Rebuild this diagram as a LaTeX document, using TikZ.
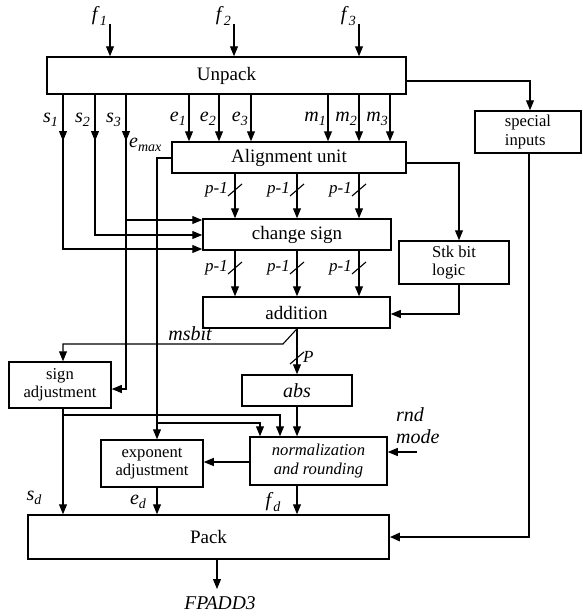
\documentclass[tikz,border=0pt]{standalone}
\usepackage{fontspec}
\setmainfont{Liberation Serif}
\usetikzlibrary{arrows.meta}
\newcommand{\lbl}[2]{\textit{#1}\raisebox{-0.45ex}{\fontsize{14}{14}\selectfont\textit{#2}}}
\newcommand{\slashmark}[2]{\draw[conn] (#1-7,#2+6) -- (#1+7,#2-6);}
\begin{document}
\begin{tikzpicture}[x=1pt,y=-1pt,
  box/.style={draw, line width=1.5pt, inner sep=0pt, font=\fontsize{19}{21}\selectfont},
  sbox/.style={draw, line width=1.5pt, inner sep=0pt, font=\fontsize{16.6}{18.5}\selectfont},
  conn/.style={line width=1.1pt},
  arr/.style={conn, -{Triangle[length=10pt,width=8pt]}},
  thickarr/.style={line width=2.6pt, -{Triangle[length=10pt,width=8pt]}},
  lab/.style={font=\fontsize{20}{22}\selectfont, inner sep=0pt},
  plab/.style={font=\fontsize{17}{19}\selectfont\itshape, inner sep=0pt},
]
\useasboundingbox (0,0) rectangle (582,616);

% boxes
\node[box, minimum width=359pt, minimum height=37pt] (unpack) at (226.5,75.5) {Unpack};
\node[box, minimum width=234pt, minimum height=31pt] (align) at (289,157.5) {Alignment unit};
\node[box, minimum width=188pt, minimum height=31pt] (chg) at (297,234.5) {change sign};
\node[box, minimum width=187pt, minimum height=31pt] (add) at (296.5,312.5) {addition};
\node[sbox, minimum width=110pt, minimum height=43pt, align=left] (stk) at (454,262.5) {Stk bit\\logic};
\node[sbox, minimum width=106pt, minimum height=42pt, align=left] (sp) at (528,132) {special\\inputs};
\node[sbox, minimum width=102pt, minimum height=46pt, align=center] (sadj) at (60,385) {sign\\adjustment};
\node[box, minimum width=110pt, minimum height=31pt, font=\fontsize{20}{22}\selectfont\itshape] (abs) at (297,390.5) {abs};
\node[sbox, minimum width=137pt, minimum height=48pt, align=center, font=\fontsize{16.6}{18.5}\selectfont\itshape] (norm) at (318.5,461) {normalization\\and rounding};
\node[sbox, minimum width=102pt, minimum height=47pt, align=center] (eadj) at (152,463.5) {exponent\\adjustment};
\node[box, minimum width=361pt, minimum height=44pt] (pack) at (208.5,537) {Pack};

% inputs f
\node[lab, anchor=east] (f1) at (107,16) {\lbl{f}{1}};
\node[lab, anchor=east] (f2) at (231,16) {\lbl{f}{2}};
\node[lab, anchor=east] (f3) at (356,16) {\lbl{f}{3}};
\coordinate (f1s) at (110,24);
\coordinate (f2s) at (234,24);
\coordinate (f3s) at (359,24);
\draw[arr] (f1s) -- (110,0 |- unpack.north);
\draw[arr] (f2s) -- (234,0 |- unpack.north);
\draw[arr] (f3s) -- (359,0 |- unpack.north);

% s lines
\node[lab, anchor=east] (ls1) at (58,120) {\lbl{s}{1}};
\node[lab, anchor=east] (ls2) at (90,120) {\lbl{s}{2}};
\node[lab, anchor=east] (ls3) at (121,120) {\lbl{s}{3}};
\draw[arr] (63,0 |- unpack.south) -- (63,141);
\draw[arr] (95,0 |- unpack.south) -- (95,141);
\draw[arr] (126,0 |- unpack.south) -- (126,141);
\draw[arr] (63,139) -- (63,249) -- (chg.west |- 0,249);
\draw[arr] (95,139) -- (95,235) -- (chg.west |- 0,235);
\draw[arr] (126,139) -- (126,220) -- (chg.west |- 0,220);
\draw[arr] (126,220) -- (126,389) -- (sadj.east |- 0,389);
\node[lab, anchor=west] (lemax) at (129,145) {\lbl{e}{max}};

% e and m lines
\node[lab, anchor=east] (le1) at (186,119) {\lbl{e}{1}};
\node[lab, anchor=east] (le2) at (216,119) {\lbl{e}{2}};
\node[lab, anchor=east] (le3) at (248,119) {\lbl{e}{3}};
\node[lab, anchor=east] (lm1) at (326,119) {\lbl{m}{1}};
\node[lab, anchor=east] (lm2) at (357,119) {\lbl{m}{2}};
\node[lab, anchor=east] (lm3) at (388,119) {\lbl{m}{3}};
\foreach \x in {189,219,251,328,359,390}
  \draw[arr] (\x,0 |- unpack.south) -- (\x,0 |- align.north);

% e_max path
\draw[arr] (align.west |- 0,158) -- (157,158) -- (157,0 |- eadj.north);
\draw[arr] (157,423) -- (260,423) -- (260,0 |- norm.north);

% alignment -> stk
\draw[arr] (align.east |- 0,163) -- (459,163) -- (459,0 |- stk.north);

% alignment -> change sign -> addition
\foreach \x in {235,297,359} {
  \draw[arr] (\x,0 |- align.south) -- (\x,0 |- chg.north);
  \slashmark{\x}{190}
  \node[plab, anchor=east] at (\x-7,190) {p-1};
  \draw[arr] (\x,0 |- chg.south) -- (\x,0 |- add.north);
  \slashmark{\x}{268}
  \node[plab, anchor=east] at (\x-7,268) {p-1};
}

% stk -> addition
\draw[arr] (459,0 |- stk.south) -- (459,314) -- (add.east |- 0,314);

% addition -> abs
\draw[arr] (297,0 |- add.south) -- (297,0 |- abs.north);
\slashmark{297}{358}
\node[plab, anchor=west] (lP) at (303,357) {P};

% msbit
\draw[arr] (297,0 |- add.south) -- (283,344) -- (63,344) -- (63,0 |- sadj.north);
\node[lab, anchor=center, font=\fontsize{20}{22}\selectfont\itshape] (lmsbit) at (190,334) {msbit};

% abs -> norm
\draw[arr] (297,0 |- abs.south) -- (297,0 |- norm.north);

% sign adj -> pack and norm
\draw[arr] (63,0 |- sadj.south) -- (63,0 |- pack.north);
\draw[arr] (63,415) -- (280,415) -- (280,0 |- norm.north);

% norm -> exp adj
\draw[arr] (norm.west |- 0,462) -- (eadj.east |- 0,462);

% rnd mode
\node[lab, anchor=west, align=left, font=\fontsize{20}{22}\selectfont\itshape] (rnd) at (396,426) {rnd\\mode};
\coordinate (rnds) at (417,452);
\draw[arr] (rnds) -- (norm.east |- 0,452);

% to pack
\draw[arr] (157,0 |- eadj.south) -- (157,0 |- pack.north);
\draw[arr] (297,0 |- norm.south) -- (297,0 |- pack.north);
\node[lab, anchor=center] (lsd) at (34,498) {\lbl{s}{d}};
\node[lab, anchor=center] (led) at (138,502) {\lbl{e}{d}};
\node[lab, anchor=center] (lfd) at (273,502) {\lbl{f}{d}};

% special inputs
\draw[arr] (unpack.east |- 0,81) -- (530,81) -- (530,0 |- sp.north);
\coordinate (spc) at (529,500);
\draw[conn] (529,0 |- sp.south) -- (spc);
\draw[thickarr] (529,499) -- (529,537) -- (pack.east);

% output
\coordinate (outp) at (217,589);
\draw[arr] (217,0 |- pack.south) -- (outp);
\node[lab, font=\fontsize{19.5}{21}\selectfont\itshape] (out) at (220,603) {FPADD3};
\end{tikzpicture}
\end{document}
